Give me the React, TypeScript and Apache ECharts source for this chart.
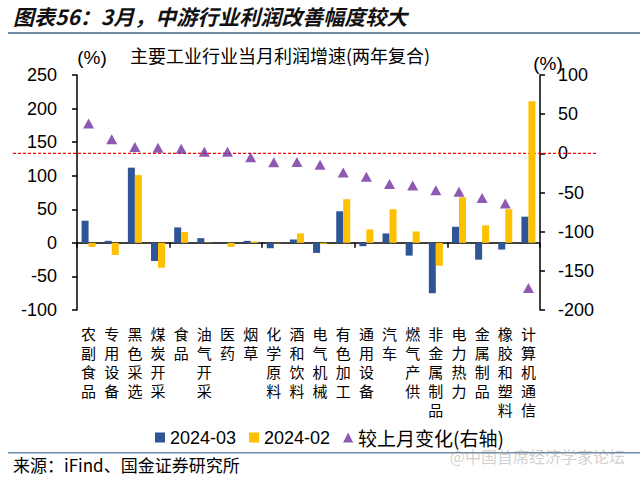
import React, { useEffect, useRef } from "react";
import * as echarts from "echarts";

const categories = ["农副食品", "专用设备", "黑色采选", "煤炭开采", "食品", "油气开采", "医药", "烟草", "化学原料", "酒和饮料", "电气机械", "有色加工", "通用设备", "汽车", "燃气产供", "非金属制品", "电力热力", "金属制品", "橡胶和塑料", "计算机通信"];
const mar2024 = [33, 3, 112, -27, 23, 7, -0.5, 3, -8, 5, -15, 47, -5, 14, -19, -75, 24, -25, -10, 39];
const feb2024 = [-6, -18, 101, -37, 16, 0.5, -6, 2, -0.5, 14, -1.5, 65, 20, 50, 17, -34, 68, 26, 50, 211];
const momChange = [38, 18, 8, 7, 6, 2, 2, -5, -11.5, -11, -14.5, -24.5, -30, -39, -41, -47, -49, -57, -64, -172];
const leftTicks = { min: -100, max: 250, interval: 50 };
const rightTicks = { min: -200, max: 100, interval: 50 };

const BLUE = "#2F5597";
const YELLOW = "#FFC000";
const PURPLE = "#7030A0";
const SANS = "'Liberation Sans', Arial, sans-serif";
const CJK = "'Noto Sans CJK SC', sans-serif";

export default function App() {
  const ref = useRef<HTMLDivElement>(null);
  useEffect(() => {
    if (!ref.current) return;
    const chart = echarts.init(ref.current, null, { renderer: "svg" });
    const option: any = {
      animation: false,
      backgroundColor: "#fff",
      grid: { left: 77, right: 100, top: 75, bottom: 167, containLabel: false },
      legend: {
        top: 423,
        left: 150,
        itemWidth: 10,
        itemHeight: 10,
        itemGap: 13,
        textStyle: { fontSize: 18, color: "#000", fontFamily: SANS },
        data: [
          { name: "2024-03", icon: "rect" },
          { name: "2024-02", icon: "rect" },
          { name: "较上月变化(右轴)", icon: "triangle", textStyle: { fontFamily: CJK, fontSize: 19 } },
        ],
      },
      xAxis: [
        {
          type: "category",
          data: categories,
          position: "bottom",
          axisLine: { show: false, onZero: false },
          axisTick: { show: false },
          axisLabel: {
            interval: 0,
            margin: 14,
            fontSize: 15,
            lineHeight: 19,
            color: "#000",
            fontFamily: CJK,
            verticalAlign: "top",
            formatter: (v: string) => v.split("").join("\n"),
          },
        },
        {
          type: "category",
          data: categories,
          position: "bottom",
          axisLine: { show: true, onZero: true, onZeroAxisIndex: 0, lineStyle: { color: "#000", width: 1.5 } },
          axisTick: { show: true, length: 5, lineStyle: { color: "#000", width: 1.5 } },
          axisLabel: { show: false },
          splitLine: { show: false },
        },
      ],
      yAxis: [
        {
          type: "value",
          position: "left",
          ...leftTicks,
          axisLine: { show: true, lineStyle: { color: "#000", width: 1.5 } },
          axisTick: { show: true, length: 5, lineStyle: { color: "#000", width: 1.5 } },
          axisLabel: { fontSize: 18, color: "#000", fontFamily: SANS, margin: 20 },
          splitLine: { show: false },
        },
        {
          type: "value",
          position: "right",
          ...rightTicks,
          axisLine: { show: true, lineStyle: { color: "#000", width: 1.5 } },
          axisTick: { show: true, length: 5, lineStyle: { color: "#000", width: 1.5 } },
          axisLabel: { fontSize: 18, color: "#000", fontFamily: SANS, margin: 18 },
          splitLine: { show: false },
        },
      ],
      series: [
        { name: "2024-03", type: "bar", data: mar2024, barWidth: 7, barGap: "0%", itemStyle: { color: BLUE }, xAxisIndex: 0, yAxisIndex: 0 },
        { name: "2024-02", type: "bar", data: feb2024, barWidth: 7, barGap: "0%", itemStyle: { color: YELLOW }, xAxisIndex: 0, yAxisIndex: 0 },
        {
          name: "较上月变化(右轴)",
          type: "scatter",
          data: momChange,
          symbol: "triangle",
          symbolSize: [11, 10],
          itemStyle: { color: PURPLE },
          xAxisIndex: 0,
          yAxisIndex: 1,
          z: 5,
        },
      ],
    };
    chart.setOption(option);
    const zeroY = chart.convertToPixel({ yAxisIndex: 1 }, 0) as number;
    chart.setOption({
      graphic: [
        {
          type: "line",
          z: 1,
          shape: { x1: 13, y1: zeroY, x2: 597, y2: zeroY },
          style: { stroke: "#FF0000", lineWidth: 1.2, lineDash: [3, 2] },
        },
        {
          type: "text",
          left: 13,
          top: 5,
          style: { text: "图表56：3月，中游行业利润改善幅度较大", fontSize: 21, fontWeight: "bold", fontStyle: "italic", fill: "#111", fontFamily: CJK },
        },
        { type: "rect", shape: { x: 8, y: 32, width: 632, height: 2 }, style: { fill: "#6F8BA6" } },
        {
          type: "text",
          x: 280,
          y: 55,
          style: { text: "主要工业行业当月利润增速(两年复合)", fontSize: 18, fill: "#000", fontFamily: CJK, align: "center", verticalAlign: "middle" },
        },
        { type: "text", x: 92, y: 57, style: { text: "(%)", fontSize: 19, fill: "#000", fontFamily: SANS, align: "center", verticalAlign: "middle" } },
        { type: "text", x: 548, y: 63, style: { text: "(%)", fontSize: 19, fill: "#000", fontFamily: SANS, align: "center", verticalAlign: "middle" } },
        { type: "rect", shape: { x: 8, y: 452, width: 632, height: 1.5 }, style: { fill: "#6F8BA6" } },
        {
          type: "text",
          x: 13,
          y: 464,
          style: { text: "来源：iFind、国金证券研究所", fontSize: 17, fill: "#000", fontFamily: CJK, verticalAlign: "middle" },
        },
        {
          type: "text",
          x: 625,
          y: 456,
          style: { text: "@中国首席经济学家论坛", fontSize: 16, fill: "rgba(150,150,150,0.45)", fontFamily: CJK, align: "right", verticalAlign: "middle" },
        },
      ],
    });
    return () => chart.dispose();
  }, []);
  return <div ref={ref} style={{ width: 640, height: 477, position: "absolute", left: 0, top: 0 }} />;
}
